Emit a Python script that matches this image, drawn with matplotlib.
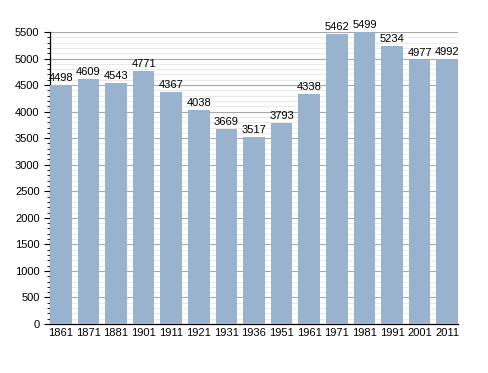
import matplotlib
matplotlib.use("Agg")
import matplotlib.pyplot as plt
from matplotlib.ticker import MultipleLocator

years = ["1861", "1871", "1881", "1901", "1911", "1921", "1931", "1936",
         "1951", "1961", "1971", "1981", "1991", "2001", "2011"]
population = [4498, 4609, 4543, 4771, 4367, 4038, 3669, 3517,
              3793, 4338, 5462, 5499, 5234, 4977, 4992]

plt.rcParams['font.family'] = ['Liberation Sans', 'DejaVu Sans']

fig = plt.figure(figsize=(4.88, 3.73), dpi=100)
ax = fig.add_axes([50/488, 49/373, 408/488, 292/373])

x = list(range(len(years)))
w = 0.78
ax.bar(x, population, width=w, color="#99b3cf", zorder=3)
for xi, v in zip(x, population):
    ax.text(xi, v + 35, str(v), ha="center", va="bottom", fontsize=8, zorder=4)

ax.set_xlim(-w/2, len(years) - 1 + w/2)
ax.set_ylim(0, 5500)
ax.set_xticks(x)
ax.set_xticklabels(years, fontsize=8)
ax.yaxis.set_major_locator(MultipleLocator(500))
ax.yaxis.set_minor_locator(MultipleLocator(100))
ax.tick_params(axis="y", which="major", labelsize=8, length=4, width=0.8)
ax.tick_params(axis="y", which="minor", length=2, width=0.6)
ax.tick_params(axis="x", length=0, pad=3)
ax.grid(axis="y", which="major", color="#a8a8a8", linewidth=0.8, zorder=0)
ax.grid(axis="y", which="minor", color="#e6e6e6", linewidth=0.6, zorder=0)
for s in ["top", "right"]:
    ax.spines[s].set_visible(False)
ax.spines["left"].set_linewidth(0.9)
ax.spines["bottom"].set_linewidth(0.9)

fig.savefig("out.png", dpi=100)
